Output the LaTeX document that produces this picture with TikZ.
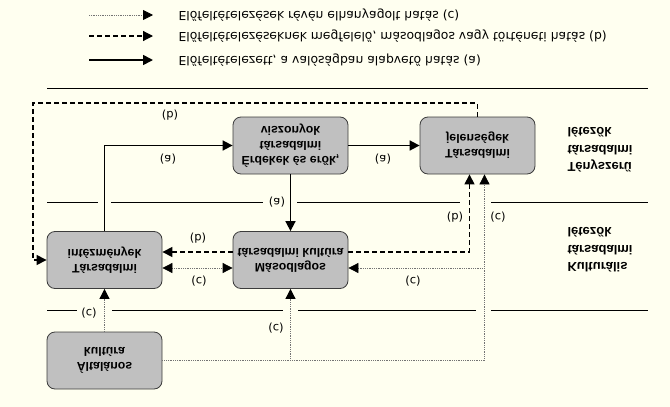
\documentclass[tikz,border=0pt]{standalone}
\usepackage{fontspec}
\setmainfont{Liberation Sans}
\newfontfamily\legfont{DejaVu Sans}
\usetikzlibrary{arrows.meta,calc}

\definecolor{paper}{RGB}{255,255,240}
\definecolor{boxgray}{RGB}{192,192,192}
\definecolor{boxedge}{RGB}{60,60,60}

\tikzset{blacktip/.tip={Triangle[length=10pt,width=10pt,color=black]}}

\begin{document}
\begin{tikzpicture}[x=1pt,y=1pt,yscale=-1,transform shape,
        >={Triangle[length=10pt,width=10pt]},
        box/.style={draw=boxedge,fill=boxgray,thick,rounded corners=8pt,
          minimum width=115pt,minimum height=57pt,align=center,
          font=\fontsize{12.3}{15}\selectfont\bfseries},
        realm/.style={anchor=west,align=left,font=\fontsize{13}{17.5}\selectfont\bfseries},
        legtext/.style={anchor=west,font=\legfont\fontsize{12.4}{15}\selectfont},
        lab/.style={font=\legfont\fontsize{11.5}{14}\selectfont,inner sep=1pt},
        hatA/.style={->,line width=1.7pt},
        hatB/.style={->,line width=1.2pt,dash pattern=on 5pt off 3pt},
        hatC/.style={-blacktip,line width=0.8pt,black!55,densely dotted},
        sep/.style={line width=1pt}]
        \useasboundingbox[fill=paper] (0,0) rectangle (670,407);

        % legend
        \node[legtext] (legc) at (175,15) {Előfeltételezések révén elhanyagolt hatás (c)};
        \node[legtext] (legb) at (175,36) {Előfeltételezéseknek megfelelő, másodlagos vagy történeti hatás (b)};
        \node[legtext] (lega) at (175,60) {Előfeltételezett, a valóságban alapvető hatás (a)};
        \draw[hatC] ($(legc.west)+(-86,0)$) -- ($(legc.west)+(-22,0)$);
        \draw[hatB] ($(legb.west)+(-86,0)$) -- ($(legb.west)+(-22,0)$);
        \draw[hatA] ($(lega.west)+(-86,0)$) -- ($(lega.west)+(-22,0)$);

        % separators
        \draw[sep] (47,88) -- (648,88);
        \draw[sep] (47,202) -- (98,202) (111,202) -- (263,202)
                   (297,202) -- (460,202) (491,202) -- (648,202);
        \draw[sep] (47,310) -- (77,310) (112,310) -- (283,310)
                   (298,310) -- (476,310) (491,310) -- (648,310);

        % boxes
        \node[box] (ero) at (290.5,145.5) {Érdekek és erők,\\társadalmi\\viszonyok};
        \node[box] (jel) at (477.5,145.5) {Társadalmi\\jelenségek};
        \node[box] (intez) at (104.5,260) {Társadalmi\\intézmények};
        \node[box] (masod) at (290.5,260) {Másodlagos\\társadalmi kultúra};
        \node[box] (alt) at (104.5,360.5) {Általános\\kultúra};

        \node[realm] (teny) at (564,150) {Tényszerű\\társadalmi\\létezők};
        \node[realm] (kult) at (564,250) {Kulturális\\társadalmi\\létezők};

        % helper points
        \coordinate (bLeft) at (33,103);
        \coordinate (mE) at ($(masod.east)+(0,8)$);
        \coordinate (cRise) at ($(jel.north)+(7,0)$);

        % (a)
        \draw[hatA] (intez.south) |- (ero.west);
        \draw[hatA] (ero.east) -- (jel.west);
        \draw[hatA] (ero.north) -- (masod.south);

        % (b)
        \draw[hatB] (jel.south) |- (bLeft) |- (intez.west);
        \draw[hatB] ($(masod.east)+(0,-8)$) -| ($(jel.north)+(-8,0)$);
        \draw[hatB] ($(masod.west)+(0,-8)$) -- ($(intez.east)+(0,-8)$);

        % (c)
        \draw[hatC,blacktip-blacktip] ($(intez.east)+(0,8)$) -- ($(masod.west)+(0,8)$);
        \draw[hatC] (alt.east) -| (cRise);
        \draw[hatC] (alt.east -| masod.north) -- (masod.north);
        \draw[hatC] (cRise |- mE) -- (mE);
        \draw[hatC] (alt.south) -- (intez.north);

        % labels
        \node[lab] (l1) at (170,115) {(b)};
        \node[lab] (l2) at (168,159) {(a)};
        \node[lab] (l3) at (383,159) {(a)};
        \node[lab] (l4) at (277,202) {(a)};
        \node[lab] (l5) at (198,238) {(b)};
        \node[lab] (l6) at (199,281) {(c)};
        \node[lab] (l7) at (455,217) {(b)};
        \node[lab] (l8) at (498,217) {(c)};
        \node[lab] (l9) at (413,281) {(c)};
        \node[lab] (l10) at (276,328) {(c)};
        \node[lab] (l11) at (89,313) {(c)};
\end{tikzpicture}
\end{document}
